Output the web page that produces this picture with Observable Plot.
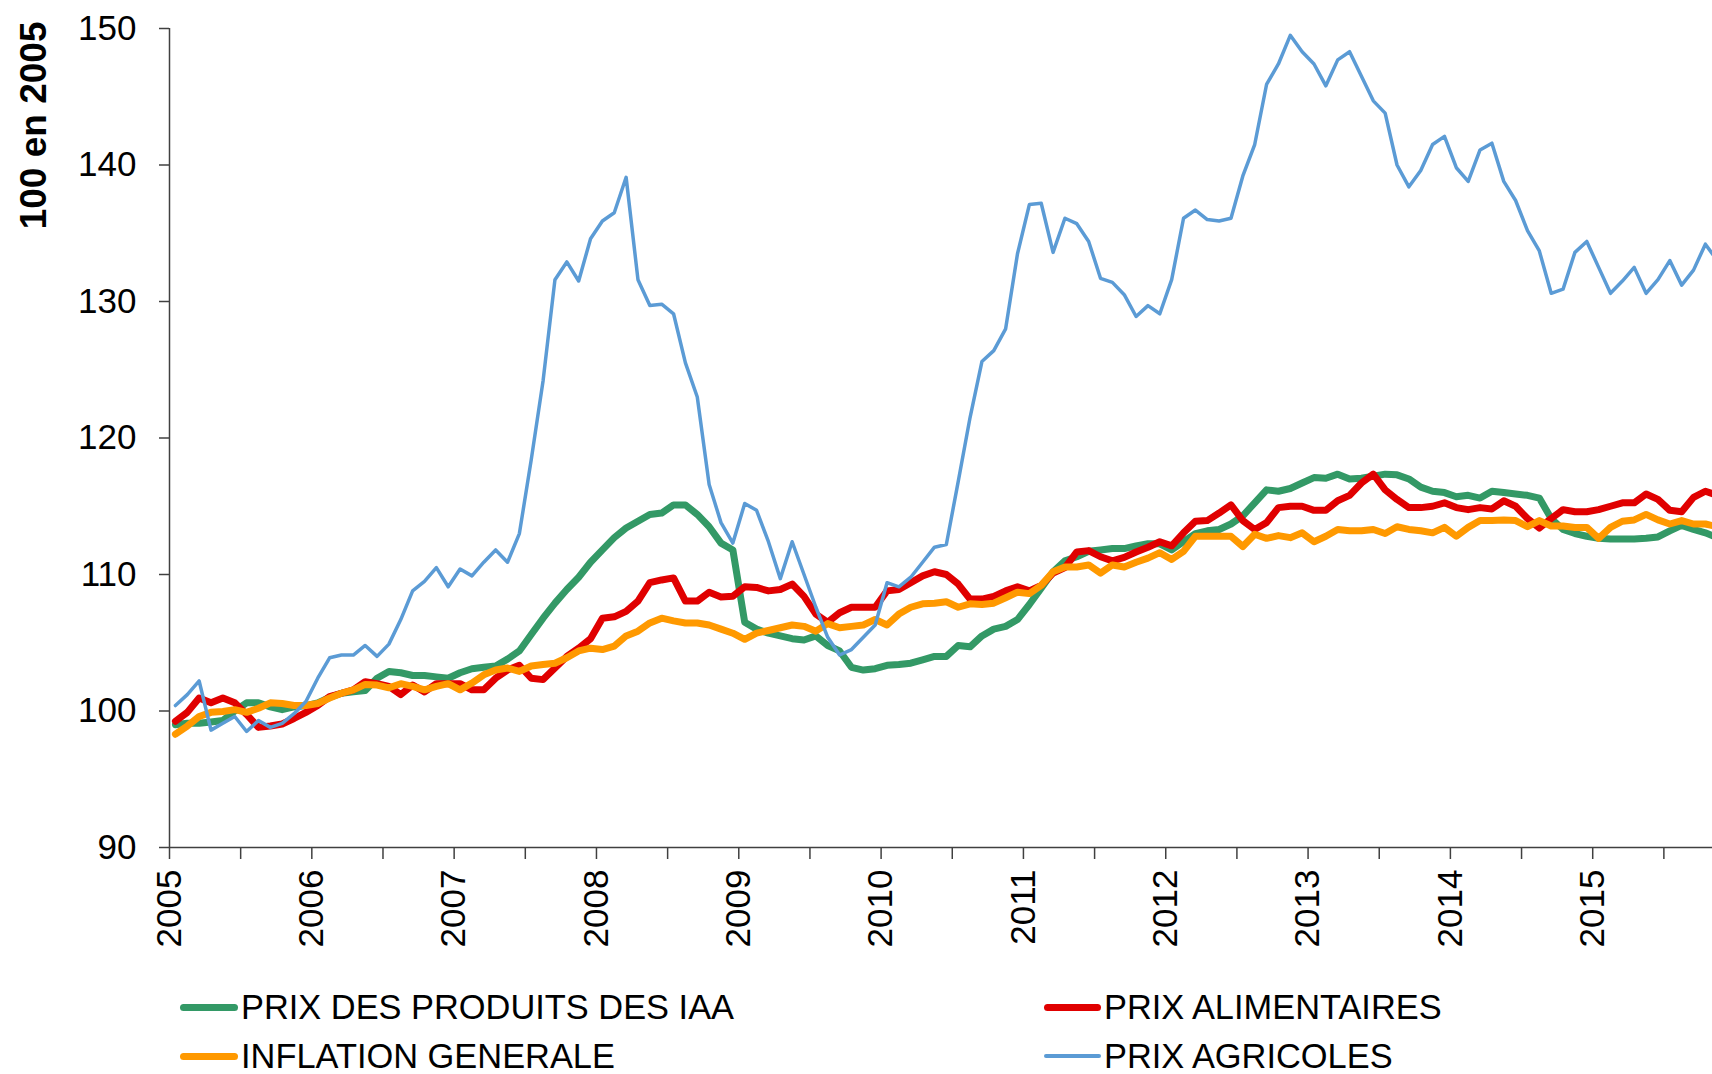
<!DOCTYPE html>
<html><head><meta charset="utf-8">
<script src="https://cdn.jsdelivr.net/npm/d3@7"></script>
<script src="https://cdn.jsdelivr.net/npm/@observablehq/plot@0.6"></script>
<style>
body{margin:0;background:#fff;}
#wrap{position:relative;width:1712px;height:1074px;overflow:hidden;background:#fff;font-family:"Liberation Sans",Arial,sans-serif;}
#chart svg{display:block}
.leg{position:absolute;height:34px;display:flex;align-items:center;font-size:34.4px;line-height:34px;color:#000;white-space:nowrap;}
.sw{display:inline-block;border-radius:4px;margin-right:3px;}
</style></head><body>
<div id="wrap"><div id="chart"></div><div id="legend"></div></div>
<script>
// Monthly indices, base 100 in 2005, starting January 2005
const startYear = 2005;
const yTicks = [90, 100, 110, 120, 130, 140, 150];
const yearTicks = [2005, 2006, 2007, 2008, 2009, 2010, 2011, 2012, 2013, 2014, 2015];
const yAxisTitle = "100 en 2005";

const seriesNames = ["PRIX DES PRODUITS DES IAA", "PRIX ALIMENTAIRES", "INFLATION GENERALE", "PRIX AGRICOLES"];
const seriesColors = ["#339966", "#E00000", "#FF9900", "#5B9BD5"];

const prixIAA = [
  99.0, 99.1, 99.1, 99.2, 99.3, 100.0, 100.6, 100.6, 100.3, 100.1, 100.3, 100.4,
  100.6, 101.0, 101.3, 101.4, 101.5, 102.4, 102.9, 102.8, 102.6, 102.6, 102.5, 102.4,
  102.8, 103.1, 103.2, 103.3, 103.8, 104.4, 105.6, 106.8, 107.9, 108.9, 109.8, 110.9,
  111.8, 112.7, 113.4, 113.9, 114.4, 114.5, 115.1, 115.1, 114.4, 113.5, 112.3, 111.8,
  106.5, 106.0, 105.7, 105.5, 105.3, 105.2, 105.5, 104.8, 104.4, 103.2, 103.0, 103.1,
  103.35, 103.4, 103.5, 103.75, 104.0, 104.0, 104.8, 104.7, 105.5, 106.0, 106.2, 106.7,
  107.8, 109.0, 110.2, 111.0, 111.3, 111.7, 111.8, 111.9, 111.9, 112.1, 112.25, 112.25,
  111.8, 112.4, 113.0, 113.2, 113.3, 113.7, 114.3, 115.25, 116.2, 116.1, 116.3, 116.7,
  117.1, 117.05, 117.35, 117.0, 117.05, 117.2, 117.35, 117.3, 117.0, 116.4, 116.1, 116.0,
  115.7, 115.8, 115.6, 116.1, 116.0, 115.9, 115.8, 115.6, 114.1, 113.3, 113.0, 112.8,
  112.65, 112.6, 112.6, 112.6, 112.65, 112.75, 113.2, 113.6, 113.3, 113.05, 112.7
];
const prixAlimentaires = [
  99.25, 99.9, 100.95, 100.6, 100.95, 100.6, 99.75, 98.8, 98.9, 99.05, 99.45, 99.9,
  100.4, 101.05, 101.3, 101.55, 102.15, 102.0, 101.8, 101.2, 101.9, 101.4, 102.0, 102.0,
  102.0, 101.55, 101.55, 102.4, 103.0, 103.35, 102.4, 102.3, 103.15, 104.0, 104.6, 105.3,
  106.8, 106.9, 107.3, 108.05, 109.4, 109.6, 109.75, 108.05, 108.05, 108.7, 108.35, 108.4,
  109.1, 109.05, 108.8, 108.9, 109.3, 108.4, 107.1, 106.5, 107.2, 107.6, 107.6, 107.6,
  108.8, 108.9, 109.4, 109.9, 110.2, 110.0, 109.3, 108.2, 108.2, 108.4, 108.8, 109.1,
  108.8, 109.2, 110.1, 110.5, 111.65, 111.75, 111.3, 111.0, 111.25, 111.65, 112.0, 112.4,
  112.1, 113.05, 113.9, 113.95, 114.5, 115.1, 113.95, 113.3, 113.8, 114.9, 115.0, 115.0,
  114.7, 114.7, 115.4, 115.8, 116.7, 117.35, 116.2, 115.5, 114.9, 114.9, 115.0, 115.25,
  114.9, 114.75, 114.9, 114.8, 115.4, 115.0, 114.1, 113.4, 114.1, 114.75, 114.6, 114.6,
  114.75, 115.0, 115.25, 115.25, 115.9, 115.5, 114.7, 114.6, 115.65, 116.1, 115.8
];
const inflationGenerale = [
  98.3, 98.9, 99.6, 99.9, 99.96, 100.1, 99.9, 100.2, 100.6, 100.55, 100.4, 100.4,
  100.55, 100.95, 101.3, 101.55, 101.95, 101.9, 101.7, 102.0, 101.8, 101.55, 101.8, 102.0,
  101.55, 102.05, 102.65, 103.0, 103.15, 102.9, 103.3, 103.4, 103.5, 103.9, 104.4, 104.6,
  104.5, 104.75, 105.5, 105.85, 106.45, 106.8, 106.6, 106.45, 106.45, 106.3, 106.0, 105.7,
  105.25, 105.7, 105.9, 106.1, 106.3, 106.2, 105.85, 106.4, 106.1, 106.2, 106.3, 106.7,
  106.3, 107.1, 107.6, 107.85, 107.9, 108.0, 107.6, 107.85, 107.8, 107.9, 108.3, 108.7,
  108.6, 109.2, 110.2, 110.55, 110.55, 110.7, 110.1, 110.7, 110.55, 110.9, 111.2, 111.6,
  111.1, 111.7, 112.8, 112.8, 112.8, 112.8, 112.05, 112.95, 112.65, 112.85, 112.7, 113.05,
  112.4, 112.8, 113.3, 113.2, 113.2, 113.3, 113.0, 113.5, 113.3, 113.2, 113.05, 113.45,
  112.8, 113.45, 113.95, 113.95, 114.0, 113.95, 113.5, 113.95, 113.55, 113.55, 113.45, 113.45,
  112.65, 113.45, 113.9, 114.0, 114.4, 114.0, 113.7, 113.95, 113.7, 113.7, 113.5
];
const prixAgricoles = [
  100.4, 101.2, 102.2, 98.6, 99.1, 99.6, 98.5, 99.3, 98.8, 99.1, 99.8, 100.7,
  102.4, 103.9, 104.1, 104.1, 104.8, 104.0, 104.9, 106.7, 108.8, 109.5, 110.5, 109.1,
  110.4, 109.9, 110.9, 111.8, 110.9, 113.0, 118.4, 124.2, 131.6, 132.9, 131.5, 134.6,
  135.9, 136.5, 139.1, 131.6, 129.7, 129.8, 129.1, 125.5, 123.0, 116.6, 113.8, 112.3,
  115.2, 114.7, 112.4, 109.7, 112.4, 110.0, 107.6, 105.4, 104.1, 104.5, 105.4, 106.3,
  109.4, 109.1, 109.8, 110.9, 112.0, 112.2, 116.8, 121.5, 125.6, 126.4, 128.0, 133.5,
  137.1, 137.2, 133.6, 136.1, 135.7, 134.4, 131.7, 131.4, 130.5, 128.9, 129.7, 129.1,
  131.6, 136.1, 136.7, 136.0, 135.9, 136.1, 139.2, 141.5, 145.9, 147.4, 149.5, 148.3,
  147.4, 145.8, 147.7, 148.3, 146.5, 144.7, 143.8, 140.0, 138.4, 139.6, 141.5, 142.1,
  139.8, 138.8, 141.1, 141.6, 138.8, 137.4, 135.2, 133.7, 130.6, 130.9, 133.6, 134.4,
  132.5, 130.6, 131.5, 132.5, 130.6, 131.6, 133.0, 131.2, 132.3, 134.2, 133.0
];
const seriesValues = [prixIAA, prixAlimentaires, inflationGenerale, prixAgricoles];
const seriesWidths = [7, 7, 7, 3.5];

// long table: month points plotted in the middle of each month
const rows = [];
seriesValues.forEach((vals, s) => vals.forEach((v, m) => rows.push({serie: seriesNames[s], t: startYear + (m + 0.5) / 12, v})));

const halfYearTicks = d3.range(2005, 2016, 0.5);
const xEnd = 2005 + 130.1 / 12;
const W = 1712, H = 975;

const font = "'Liberation Sans', Arial, sans-serif";
const chart = Plot.plot({
  width: W, height: H,
  marginLeft: 169, marginRight: 0, marginTop: 28, marginBottom: H - 847,
  style: {fontFamily: font, fontSize: "35px", color: "#000", background: "#fff"},
  x: {type: "linear", domain: [2005, xEnd]},
  y: {domain: [90, 150]},
  marks: [
    Plot.axisY({ticks: yTicks, tickSize: 10, tickPadding: 23, tickFormat: d => String(d), stroke: "#404040", strokeWidth: 1.5, fill: "#000", label: null}),
    Plot.axisX({ticks: halfYearTicks, tickSize: 12, tickPadding: 10, tickRotate: -90,
      tickFormat: d => yearTicks.includes(d) ? String(d) : "", stroke: "#404040", strokeWidth: 1.5, fill: "#000", label: null}),
    Plot.ruleY([90], {stroke: "#404040", strokeWidth: 1.5}),
    Plot.ruleX([2005], {stroke: "#404040", strokeWidth: 1.5}),
    ...seriesNames.map((name, s) => Plot.lineY(rows.filter(r => r.serie === name), {
      x: "t", y: "v", stroke: seriesColors[s], strokeWidth: seriesWidths[s],
      strokeLinejoin: "round", strokeLinecap: "round", clip: true
    })),
    Plot.text([yAxisTitle], {frameAnchor: "top-left", rotate: -90, textAnchor: "end",
      dx: -150, dy: -7, fontWeight: "bold", fontSize: 37, fill: "#000"})
  ]
});
document.getElementById("chart").appendChild(chart);

// legend below the chart (two columns, two rows)
const legendPos = [[180, 1007], [1044, 1007], [180, 1056], [1044, 1056]];
const legendSwatch = [[58, 7], [57, 7], [58, 7], [57, 4]];
const legend = document.getElementById("legend");
seriesNames.forEach((name, s) => {
  const el = document.createElement("div");
  el.className = "leg";
  el.style.left = legendPos[s][0] + "px";
  el.style.top = (legendPos[s][1] - 17) + "px";
  const sw = document.createElement("span");
  sw.className = "sw";
  sw.style.width = legendSwatch[s][0] + "px";
  sw.style.height = legendSwatch[s][1] + "px";
  sw.style.background = seriesColors[s];
  const tx = document.createElement("span");
  tx.textContent = name;
  el.appendChild(sw); el.appendChild(tx);
  legend.appendChild(el);
});
</script>
</body></html>
